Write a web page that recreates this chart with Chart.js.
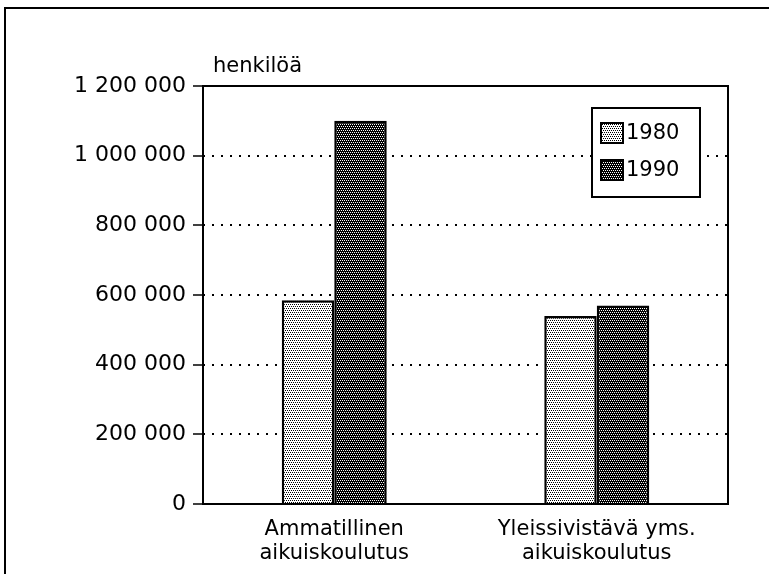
<!DOCTYPE html>
<html>
<head>
<meta charset="utf-8">
<script src="https://cdn.jsdelivr.net/npm/chart.js@4/dist/chart.umd.min.js"></script>
<style>
  body { margin: 0; background: #fff; }
  #wrap { width: 769px; height: 574px; }
</style>
</head>
<body>
<div id="wrap"><canvas id="barChart" width="769" height="574"></canvas></div>
<script>
// data
const categories = [['Ammatillinen', 'aikuiskoulutus'], ['Yleissivistävä yms.', 'aikuiskoulutus']];
const years = ['1980', '1990'];
const values1980 = [585000, 540000];
const values1990 = [1100000, 570000];
const yUnit = 'henkilöä';
const yMax = 1200000;
const yStep = 200000;

const FONT = '"DejaVu Sans", sans-serif';

// little dot patterns like the old printed raster
function dotPattern(bg, dot) {
    const c = document.createElement('canvas');
    c.width = 4; c.height = 4;
    const g = c.getContext('2d');
    g.fillStyle = bg;
    g.fillRect(0, 0, 4, 4);
    g.fillStyle = dot;
    g.fillRect(0, 0, 1, 1);
    g.fillRect(2, 0, 1, 1);
    g.fillRect(1, 2, 1, 1);
    g.fillRect(3, 2, 1, 1);
    return g.createPattern(c, 'repeat');
}
const lightFill = dotPattern('#ffffff', '#000000');
const darkFill = dotPattern('#000000', '#ffffff');

// frame, unit label and the boxed legend
const extras = {
    id: 'extras',
    beforeDraw(chart) {
        const ctx = chart.ctx;
        ctx.save();
        ctx.strokeStyle = '#000';
        ctx.lineWidth = 2;
        ctx.beginPath();
        ctx.moveTo(5, 574);
        ctx.lineTo(5, 8);
        ctx.lineTo(769, 8);
        ctx.stroke();
        ctx.fillStyle = '#000';
        ctx.font = '21px ' + FONT;
        ctx.textAlign = 'left';
        ctx.textBaseline = 'alphabetic';
        ctx.fillText(yUnit, 213, 72);
        ctx.restore();
    },
    afterDatasetsDraw(chart) {
        const ctx = chart.ctx;
        const a = chart.chartArea;
        ctx.save();
        ctx.strokeStyle = '#000';
        ctx.lineWidth = 2;
        ctx.strokeRect(a.left, a.top, a.right - a.left, a.bottom - a.top);

        // legend box
        const lx = 592, ly = 108, lw = 108, lh = 89;
        ctx.fillStyle = '#fff';
        ctx.fillRect(lx, ly, lw, lh);
        ctx.strokeRect(lx, ly, lw, lh);
        ctx.font = '21px ' + FONT;
        ctx.textBaseline = 'middle';
        chart.data.datasets.forEach((ds, i) => {
            const sy = 123 + i * 37;
            ctx.fillStyle = ds.backgroundColor;
            ctx.fillRect(601, sy, 22, 20);
            ctx.lineWidth = 2;
            ctx.strokeRect(601, sy, 22, 20);
            ctx.fillStyle = '#000';
            ctx.fillText(ds.label, 626, sy + 11);
        });
        ctx.restore();
    }
};

const ctx = document.getElementById('barChart').getContext('2d');
const myBarChart = new Chart(ctx, {
    type: 'bar',
    data: {
        labels: categories,
        datasets: [
            { label: years[0], data: values1980, backgroundColor: lightFill, borderColor: '#000', borderWidth: 2.5 },
            { label: years[1], data: values1990, backgroundColor: darkFill, borderColor: '#000', borderWidth: 2.5 }
        ]
    },
    options: {
        responsive: false,
        animation: false,
        layout: { padding: { left: 0, top: 86, right: 41, bottom: 0 } },
        datasets: { bar: { categoryPercentage: 0.4, barPercentage: 1.0 } },
        plugins: { legend: { display: false }, tooltip: { enabled: false } },
        scales: {
            x: {
                grid: { display: false },
                border: { display: false },
                ticks: { color: '#000', font: { family: FONT, size: 21, lineHeight: 1.15 }, padding: 5, maxRotation: 0 },
                afterFit(scale) { scale.height = 70; }
            },
            y: {
                min: 0,
                max: yMax,
                ticks: {
                    stepSize: yStep,
                    color: '#000',
                    font: { family: FONT, size: 22 },
                    padding: 7,
                    callback: v => String(v).replace(/\B(?=(\d{3})+(?!\d))/g, ' ')
                },
                grid: {
                    color: '#000',
                    lineWidth: 2,
                    tickLength: 10,
                    tickColor: '#000',
                    tickWidth: 1.5,
                    tickBorderDash: []
                },
                border: { display: false, dash: [2, 7] },
                afterFit(scale) { scale.width = 203; }
            }
        }
    },
    plugins: [extras]
});
</script>
</body>
</html>
